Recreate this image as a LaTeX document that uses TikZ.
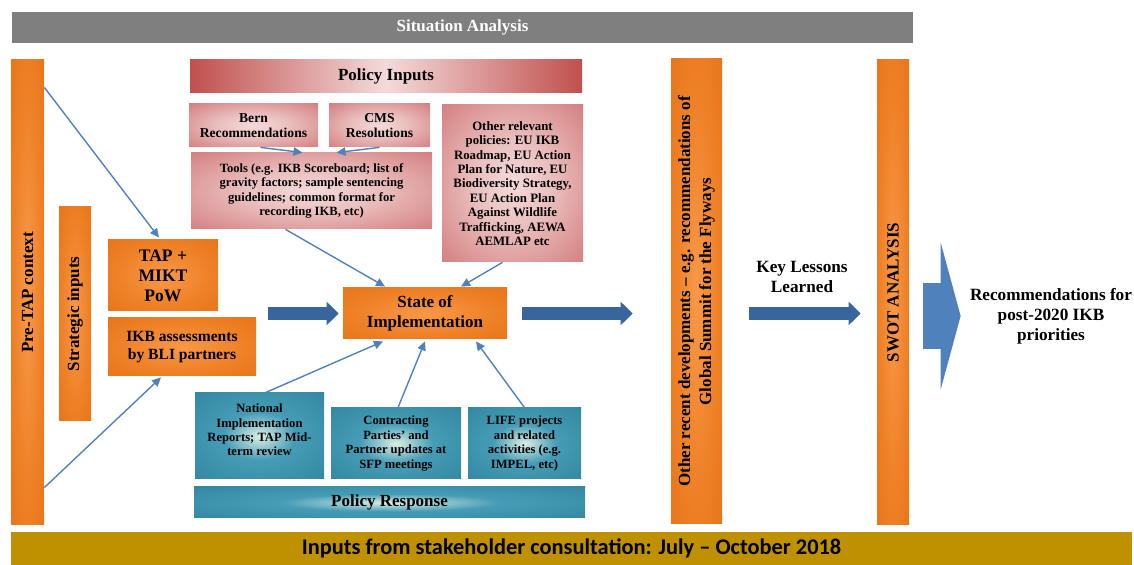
\documentclass[tikz,border=0pt]{standalone}
\usepackage{fontspec}
\setmainfont{Liberation Serif}
\newfontfamily\barfont{Carlito}
\usepackage{tikz}
\usetikzlibrary{arrows.meta, positioning, calc}
\definecolor{mygray}{RGB}{127,127,127}
\definecolor{myorange}{RGB}{226,106,12}
\definecolor{myorangemid}{RGB}{238,128,38}
\definecolor{myorangelt}{RGB}{248,152,72}
\definecolor{myred}{RGB}{192,80,77}
\definecolor{myredmid}{RGB}{214,132,132}
\definecolor{myredpk}{RGB}{234,190,190}
\definecolor{myredlt}{RGB}{244,218,218}
\definecolor{myteal}{RGB}{40,122,146}
\definecolor{mytealmid}{RGB}{70,156,182}
\definecolor{mytealt}{RGB}{220,238,228}
\definecolor{myblue}{RGB}{79,129,189}
\definecolor{mydarkblue}{RGB}{56,101,156}
\definecolor{mygold}{RGB}{191,144,0}
\pgfdeclareradialshading{orangeglow}{\pgfpoint{0bp}{0bp}}{color(0bp)=(myorangelt); color(22bp)=(myorangemid); color(50bp)=(myorange); color(71bp)=(myorange)}
\pgfdeclareradialshading{redglow}{\pgfpoint{0bp}{0bp}}{color(0bp)=(myredlt); color(14bp)=(myredpk); color(34bp)=(myredmid); color(50bp)=(myred); color(71bp)=(myred)}
\pgfdeclareradialshading{tealglow}{\pgfpoint{0bp}{0bp}}{color(0bp)=(mytealt); color(14bp)=(mytealmid); color(50bp)=(myteal); color(71bp)=(myteal)}
\tikzset{
  banner/.style={rectangle, inner sep=0pt, minimum height=15.5pt,
    font=\bfseries\fontsize{8.5}{10}\selectfont},
  bar/.style={rectangle, shade, shading=orangeglow, rotate=90, align=center,
    inner sep=0pt, font=\bfseries\fontsize{8.5}{10.5}\selectfont},
  orgbox/.style={rectangle, shade, shading=orangeglow, align=center,
    inner sep=1pt, font=\bfseries\fontsize{8.5}{10}\selectfont},
  redbox/.style={rectangle, shade, shading=redglow, align=center,
    inner sep=1pt, font=\bfseries\fontsize{6.3}{7.3}\selectfont},
  tealbox/.style={rectangle, shade, shading=tealglow, align=center,
    inner sep=1pt, font=\bfseries\fontsize{6.3}{7.2}\selectfont},
  plaintext/.style={align=center, inner sep=0pt,
    font=\bfseries\fontsize{8.6}{10}\selectfont},
  thinarrow/.style={-{Triangle[length=4.5pt,width=4.2pt]}, line width=0.7pt, color=myblue},
  bigarrow/.style={-{Triangle[length=6pt,width=11.5pt]}, line width=6.5pt, color=mydarkblue},
  blockarrow/.style={-{Triangle[length=10pt,width=73.5pt]}, line width=33pt, color=myblue}
}

\begin{document}
\begin{tikzpicture}[x=0.5pt, y=-0.5pt]
  \useasboundingbox (0,0) rectangle (1134,565);

  % banners
  \node[banner, fill=mygray, text=white, minimum width=450.5pt] (situation) at (462.5,27.5) {Situation Analysis};
  \node[banner, fill=mygold, minimum width=560.5pt, minimum height=16.5pt,
    font=\barfont\bfseries\fontsize{11.2}{13}\selectfont] (consult) at (571.5,548.5)
    {Inputs from stakeholder consultation: July – October 2018};

  % left column
  \node[bar, minimum width=232.5pt, minimum height=16.5pt] (pretap) at (27.5,292.5) {Pre-TAP context};
  \node[bar, minimum width=107pt, minimum height=16pt] (strategic) at (75,314) {Strategic inputs};
  \node[orgbox, minimum width=55pt, minimum height=35.5pt,
    font=\bfseries\fontsize{8.8}{10}\selectfont] (tap) at (163,275.5) {TAP +\\MIKT\\PoW};
  \node[orgbox, minimum width=74pt, minimum height=29pt,
    font=\bfseries\fontsize{7.8}{9}\selectfont] (ikb) at (182,347) {IKB assessments\\by BLI partners};

  % policy inputs
  \node[banner, shade, left color=myred, right color=myred, middle color=myredlt,
    minimum width=196pt, minimum height=16.5pt] (policyin) at (386,76.5) {Policy Inputs};
  \node[redbox, minimum width=64.5pt, minimum height=21.5pt,
    font=\bfseries\fontsize{6.8}{7.3}\selectfont] (bern) at (253.5,125.5) {Bern\\Recommendations};
  \node[redbox, minimum width=50.5pt, minimum height=21.5pt,
    font=\bfseries\fontsize{6.8}{7.3}\selectfont] (cms) at (379.5,125.5) {CMS\\Resolutions};
  \node[redbox, minimum width=120.5pt, minimum height=38pt] (tools) at (311.5,191)
    {Tools (e.g. IKB Scoreboard; list of\\gravity factors; sample sentencing\\guidelines; common format for\\recording IKB, etc)};
  \node[redbox, minimum width=70.5pt, minimum height=78.5pt,
    font=\bfseries\fontsize{6.4}{7.2}\selectfont] (otherpol) at (512.5,183.5)
    {Other relevant\\policies: EU IKB\\Roadmap, EU Action\\Plan for Nature, EU\\Biodiversity Strategy,\\EU Action Plan\\Against Wildlife\\Trafficking, AEWA\\AEMLAP etc};

  \node[orgbox] (state) at (425,313.5) [minimum width=82pt, minimum height=25.5pt] {State of\\Implementation};

  % policy response
  \node[tealbox, minimum width=64.5pt, minimum height=43pt, text depth=6pt] (national) at (259.5,436)
    {National\\Implementation\\Reports; TAP Mid-\\term review};
  \node[tealbox, minimum width=65pt, minimum height=35.5pt] (contracting) at (396,443.5)
    {Contracting\\Parties’ and\\Partner updates at\\SFP meetings};
  \node[tealbox, minimum width=56.5pt, minimum height=35.5pt] (life) at (524.5,443.5)
    {LIFE projects\\and related\\activities (e.g.\\IMPEL, etc)};
  \node[tealbox, minimum width=195.5pt, minimum height=15.5pt,
    font=\bfseries\fontsize{8.5}{10}\selectfont] (response) at (389.5,502.5) {Policy Response};

  % right part
  \node[bar, minimum width=232.5pt, minimum height=25.5pt] (otherdev) at (696.5,291.5)
    {Other recent developments – e.g. recommendations of\\Global Summit for the Flyways};
  \node[bar, minimum width=232.5pt, minimum height=16pt] (swot) at (893,292.5) {SWOT ANALYSIS};
  \node[plaintext] (lessons) at (802,277) {Key Lessons\\Learned};
  \node[plaintext] (rec) at (1051,316) {Recommendations for\\post-2020 IKB\\priorities};

  % thin arrows
  \draw[thinarrow] ($(pretap.south)+(0,-205)$) -- ($(tap.north)+(-4,-2)$);
  \draw[thinarrow] ($(pretap.south)+(0,195)$) -- ($(ikb.south)+(-21,1)$);
  \draw[thinarrow] ($(bern.south)+(7,0)$) -- ($(tools.north)+(-9,0)$);
  \draw[thinarrow] (cms.south) -- ($(tools.north)+(25,0)$);
  \draw[thinarrow] ($(tools.south)+(-26,0)$) -- ($(state.north)+(-40,-1)$);
  \draw[thinarrow] ($(otherpol.south)+(-10,0)$) -- ($(state.north)+(36,-1)$);
  \draw[thinarrow] ($(national.north)+(6,0)$) -- ($(state.south)+(-42,2)$);
  \draw[thinarrow] ($(contracting.north)+(2,0)$) -- ($(state.south)+(0,2)$);
  \draw[thinarrow] (life.north) -- ($(state.south)+(51,2)$);

  % big arrows
  \draw[bigarrow, shorten <=6pt, shorten >=2pt] (ikb.east |- state.west) -- (state.west);
  \draw[bigarrow, shorten <=7.5pt, shorten >=19pt] (state.east) -- (state.east -| otherdev.north);
  \draw[bigarrow, shorten <=13.5pt, shorten >=8pt] (otherdev.south |- state.east) -- (swot.north |- state.east);
  \draw[blockarrow, shorten <=7pt, shorten >=4.5pt] (swot.south |- rec) -- (rec.west);
\end{tikzpicture}
\end{document}
